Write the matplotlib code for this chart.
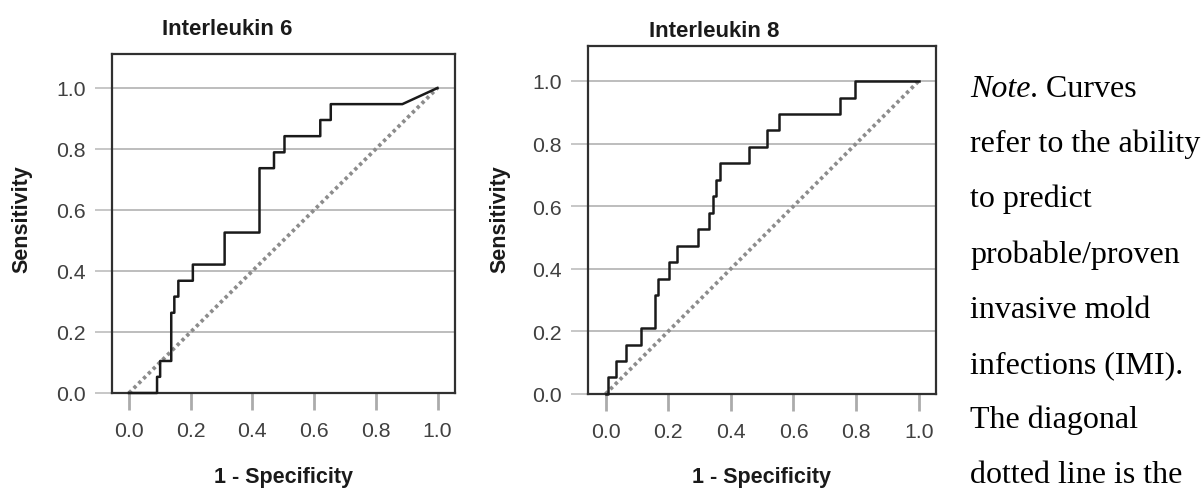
import matplotlib
matplotlib.use("Agg")
import matplotlib.pyplot as plt
from matplotlib import font_manager

# ROC curve vertices (1 - specificity, sensitivity)
il6_fpr = [0.0, 0.091, 0.091, 0.101, 0.101, 0.137, 0.137, 0.147, 0.147, 0.160, 0.160,
           0.207, 0.207, 0.310, 0.310, 0.423, 0.423, 0.470, 0.470, 0.504, 0.504,
           0.620, 0.620, 0.654, 0.654, 0.886, 1.0]
il6_tpr = [0.0, 0.0, 0.053, 0.053, 0.105, 0.105, 0.263, 0.263, 0.316, 0.316, 0.368,
           0.368, 0.421, 0.421, 0.526, 0.526, 0.737, 0.737, 0.789, 0.789, 0.842,
           0.842, 0.895, 0.895, 0.947, 0.947, 1.0]

il8_fpr = [0.0, 0.007, 0.007, 0.032, 0.032, 0.066, 0.066, 0.112, 0.112, 0.159, 0.159,
           0.169, 0.169, 0.204, 0.204, 0.228, 0.228, 0.296, 0.296, 0.330, 0.330,
           0.343, 0.343, 0.354, 0.354, 0.364, 0.364, 0.458, 0.458, 0.515, 0.515,
           0.553, 0.553, 0.748, 0.748, 0.795, 0.795, 1.0]
il8_tpr = [0.0, 0.0, 0.053, 0.053, 0.105, 0.105, 0.158, 0.158, 0.211, 0.211, 0.316,
           0.316, 0.368, 0.368, 0.421, 0.421, 0.474, 0.474, 0.526, 0.526, 0.579,
           0.579, 0.632, 0.632, 0.684, 0.684, 0.737, 0.737, 0.789, 0.789, 0.842,
           0.842, 0.895, 0.895, 0.947, 0.947, 1.0, 1.0]

ref_line = [0.0, 1.0]
tick_values = [0.0, 0.2, 0.4, 0.6, 0.8, 1.0]
tick_labels = ["0.0", "0.2", "0.4", "0.6", "0.8", "1.0"]

panel_titles = ["Interleukin 6", "Interleukin 8"]
x_label = "1 - Specificity"
y_label = "Sensitivity"
note_lines = ["Curves", "refer to the ability", "to predict", "probable/proven",
              "invasive mold", "infections (IMI).", "The diagonal",
              "dotted line is the"]

available = {f.name for f in font_manager.fontManager.ttflist}
tick_family = "Liberation Sans Narrow" if "Liberation Sans Narrow" in available else "Liberation Sans"
tick_size = 16.5 if tick_family == "Liberation Sans Narrow" else 15.3

W, H = 1203, 489
fig = plt.figure(figsize=(W / 100, H / 100), dpi=100)


def px_box(left, right, top, bottom):
    return [left / W, 1 - bottom / H, (right - left) / W, (bottom - top) / H]


def fx(x):
    return x / W


def fy(y):
    return 1 - y / H


def roc_panel(box, fpr, tpr):
    ax = fig.add_axes(box)
    ax.set_xlim(-0.055, 1.055)
    ax.set_ylim(0.0, 1.113)
    ax.set_yticks(tick_values)
    ax.set_yticklabels(tick_labels)
    ax.set_xticks(tick_values)
    ax.set_xticklabels(tick_labels)
    ax.yaxis.grid(True, color="#b8b8b8", linewidth=1.3)
    ax.set_axisbelow(True)
    for s in ax.spines.values():
        s.set_color("#303030")
        s.set_linewidth(1.6)
    ax.tick_params(axis="y", length=12, width=1.1, color="#b8b8b8", pad=7,
                   labelsize=tick_size, labelcolor="#404040")
    ax.tick_params(axis="x", length=12, width=2.0, color="#ababab", pad=8,
                   labelsize=tick_size, labelcolor="#404040")
    for lab in ax.get_xticklabels() + ax.get_yticklabels():
        lab.set_family(tick_family)
    ax.plot(ref_line, ref_line, color="#8c8c8c", linewidth=2.7,
            linestyle=(0, (0.9, 0.9)), zorder=2)
    ax.plot(fpr, tpr, color="#1a1a1a", linewidth=1.8, zorder=3, clip_on=False)
    return ax


roc_panel(px_box(112, 454.5, 54.5, 394), il6_fpr, il6_tpr)
roc_panel(px_box(588.3, 936, 46.6, 395), il8_fpr, il8_tpr)

label_font = dict(family="Liberation Sans", weight="bold", color="#1a1a1a")
fig.text(fx(227), fy(35), panel_titles[0], ha="center", va="baseline",
         fontsize=16, **label_font)
fig.text(fx(714), fy(37), panel_titles[1], ha="center", va="baseline",
         fontsize=16, **label_font)
fig.text(fx(283), fy(483), x_label, ha="center", va="baseline",
         fontsize=15.5, **label_font)
fig.text(fx(762), fy(483), x_label, ha="center", va="baseline",
         fontsize=15.5, **label_font)
fig.text(fx(27), fy(219), y_label, ha="center", va="baseline", rotation=90,
         rotation_mode="anchor", fontsize=15.5, **label_font)
fig.text(fx(505), fy(219), y_label, ha="center", va="baseline", rotation=90,
         rotation_mode="anchor", fontsize=15.5, **label_font)

# Side note, set in a serif face like the surrounding document
serif = dict(family="Liberation Serif", fontsize=23, color="black")
x0, y0, step = 970, 97, 55.2
note_head = fig.text(fx(x0), fy(y0), "Note", style="italic", va="baseline", **serif)
fig.canvas.draw()
bb = note_head.get_window_extent()
fig.text(bb.x1 / W, fy(y0), ". " + note_lines[0], va="baseline", **serif)
for i, line in enumerate(note_lines[1:], start=1):
    fig.text(fx(x0), fy(y0 + i * step), line, va="baseline", **serif)

fig.savefig("out.png", dpi=100)
